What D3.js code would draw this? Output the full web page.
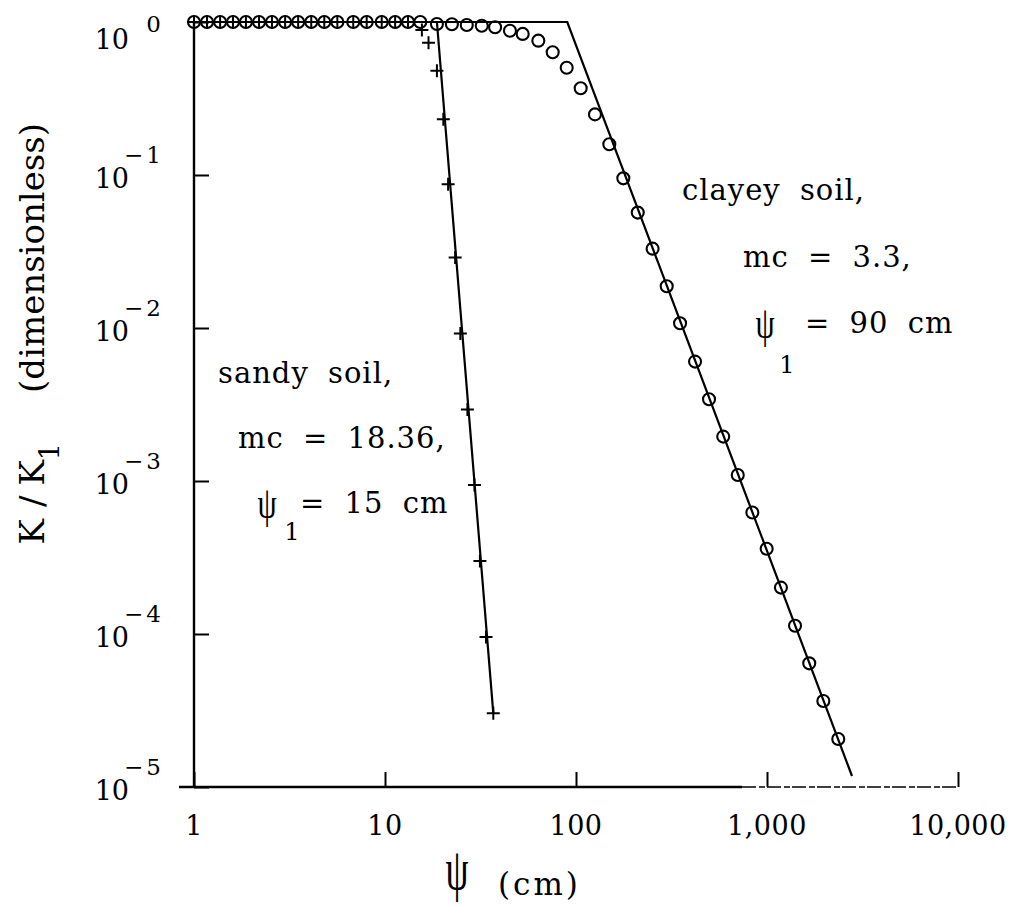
<!DOCTYPE html>
<html>
<head>
<meta charset="utf-8">
<script src="https://cdn.jsdelivr.net/npm/d3@7"></script>
<style>
  html, body { margin: 0; padding: 0; background: #fff; }
  svg { display: block; }
  text { font-family: "DejaVu Serif", serif; fill: #000; }
  .psi { font-family: "Liberation Serif", serif; }
</style>
</head>
<body>
<svg id="chart" width="1010" height="907"></svg>
<script>
// Suction head ψ (cm) tick values and labels
const psiTicks = [1, 10, 100, 1000, 10000];
const psiTickLabels = ["1", "10", "100", "1,000", "10,000"];

// Relative conductivity K/K1 tick values and their exponents
const kTicks = [1, 1e-1, 1e-2, 1e-3, 1e-4, 1e-5];
const kTickExponents = ["0", "\u22121", "\u22122", "\u22123", "\u22124", "\u22125"];

// Clayey soil: measured points (circles)
const clayPsi = [1.00, 1.17, 1.37, 1.60, 1.87, 2.19, 2.56, 3.00, 3.51, 4.11, 4.81, 5.63, 6.82,
  8.02, 9.61, 11.3, 13.2, 15.3, 18.7, 22.4, 26.8, 32.1, 37.7, 45.1, 52.6, 63.5, 75.5,
  89.4, 105.8, 125.7, 149.4, 176.9, 210.5, 251.8, 298.5, 350.6, 420, 497, 590, 703,
  838, 996, 1183, 1402, 1664, 1972, 2361];
const clayK = [1, 1, 1, 1, 1, 1, 1, 1, 1, 1, 1, 1, 1,
  1, 1, 1, 1, 1, 0.97, 0.966, 0.955, 0.946, 0.923, 0.877, 0.836, 0.755, 0.634,
  0.502, 0.369, 0.249, 0.159, 0.0951, 0.0568, 0.0330, 0.01875, 0.01074, 0.00603,
  0.00342, 0.00195, 0.001094, 0.000622, 0.000361, 0.000201, 0.0001132, 0.0000643,
  0.0000365, 0.0000206];

// Sandy soil: measured points (plus signs)
const sandyPsi = [1.00, 1.17, 1.37, 1.60, 1.87, 2.19, 2.56, 3.00, 3.51, 4.11, 4.81, 5.63, 6.82,
  8.02, 9.61, 11.3, 13.2, 15.6, 16.9, 18.7, 20.2, 21.4, 23.3, 24.8, 27.0, 29.4, 31.4,
  33.8, 36.9];
const sandyK = [1, 1, 1, 1, 1, 1, 1, 1, 1, 1, 1, 1, 1,
  1, 1, 1, 1, 0.887, 0.732, 0.481, 0.231, 0.0869, 0.0289, 0.0092, 0.00293, 0.00094,
  0.0003, 0.0000955, 0.0000303];

// Fitted model lines (K/K1 = 1 up to the break, straight log-log drop after)
const clayLinePsi = [1, 90, 2786];
const clayLineK = [1, 1, 1.18e-5];
const sandyLinePsi = [1, 18.7, 36.9];
const sandyLineK = [1, 1, 3.03e-5];

const svg = d3.select("#chart");
const x = d3.scaleLog().domain([1, 10000]).range([194, 958]);
const y = d3.scaleLog().domain([1e-5, 1]).range([787, 22]);

const ink = "#000";

// Axis lines
const axisG = svg.append("g");
axisG.append("line")
  .attr("x1", x(1)).attr("x2", x(1))
  .attr("y1", y(1)).attr("y2", y(1e-5))
  .attr("stroke", ink).attr("stroke-width", 2.4);
axisG.append("line")
  .attr("x1", x(1) - 15).attr("x2", x(1000) - 25)
  .attr("y1", y(1e-5)).attr("y2", y(1e-5))
  .attr("stroke", ink).attr("stroke-width", 2.4);
axisG.append("line")
  .attr("x1", x(1000) - 25).attr("x2", x(10000))
  .attr("y1", y(1e-5)).attr("y2", y(1e-5))
  .attr("stroke", ink).attr("stroke-width", 1.5)
  .attr("stroke-dasharray", "14 3 6 2");

// Ticks pointing into the plot
const xAxis = d3.axisBottom(x).tickValues(psiTicks).tickSize(-15).tickFormat("");
const gx = svg.append("g").attr("transform", `translate(0,${y(1e-5)})`).call(xAxis);
gx.select(".domain").remove();
gx.selectAll(".tick line").attr("stroke", ink).attr("stroke-width", 2);

const yAxis = d3.axisLeft(y).tickValues(kTicks).tickSize(-15).tickFormat("");
const gy = svg.append("g").attr("transform", `translate(${x(1)},0)`).call(yAxis);
gy.select(".domain").remove();
gy.selectAll(".tick line").attr("stroke", ink).attr("stroke-width", 2);

// X tick labels
svg.append("g").selectAll("text")
  .data(psiTicks)
  .join("text")
  .attr("x", d => x(d))
  .attr("y", 835)
  .attr("text-anchor", "middle")
  .attr("font-size", 27)
  .attr("letter-spacing", 0.5)
  .text((d, i) => psiTickLabels[i]);

// Y tick labels as 10 with a raised exponent
const yLab = svg.append("g").selectAll("g")
  .data(kTicks)
  .join("g");
yLab.append("text")
  .attr("x", 129)
  .attr("y", (d, i) => y(d) + (i === 0 ? 27 : 13))
  .attr("text-anchor", "end")
  .attr("font-size", 27)
  .text("10");
yLab.append("text")
  .attr("x", 164)
  .attr("y", (d, i) => y(d) + (i === 0 ? 10 : -12))
  .attr("text-anchor", "end")
  .attr("font-size", 23)
  .attr("letter-spacing", 3)
  .text((d, i) => kTickExponents[i]);

// Model lines
const line = d3.line().x(d => x(d[0])).y(d => y(d[1]));
svg.append("path")
  .datum(clayLinePsi.map((p, i) => [p, clayLineK[i]]))
  .attr("d", line).attr("fill", "none")
  .attr("stroke", ink).attr("stroke-width", 2.2);
svg.append("path")
  .datum(sandyLinePsi.map((p, i) => [p, sandyLineK[i]]))
  .attr("d", line).attr("fill", "none")
  .attr("stroke", ink).attr("stroke-width", 2.2);

// Clayey soil points
svg.append("g").selectAll("circle")
  .data(clayPsi.map((p, i) => [p, clayK[i]]))
  .join("circle")
  .attr("cx", d => x(d[0]))
  .attr("cy", d => y(d[1]))
  .attr("r", 6)
  .attr("fill", "none")
  .attr("stroke", ink)
  .attr("stroke-width", 2.1);

// Sandy soil points
svg.append("g").selectAll("path")
  .data(sandyPsi.map((p, i) => [p, sandyK[i]]))
  .join("path")
  .attr("transform", d => `translate(${x(d[0])},${y(d[1])})`)
  .attr("d", "M-6.5,0H6.5M0,-6.5V6.5")
  .attr("stroke", ink)
  .attr("stroke-width", 2);

// Annotations
function note(px, py, str) {
  return svg.append("text")
    .attr("x", px).attr("y", py)
    .attr("font-size", 29)
    .attr("letter-spacing", 1)
    .attr("word-spacing", 9)
    .text(str);
}
function psi(cx, baseY, size, sx, sy) {
  return svg.append("text").attr("class", "psi")
    .attr("transform", `translate(${cx},${baseY}) scale(${sx},${sy})`)
    .attr("text-anchor", "middle")
    .attr("font-size", size)
    .text("\u03c8");
}
note(218, 383, "sandy soil,");
note(238, 448, "mc = 18.36,");
psi(267, 518, 36, 0.85, 1.25);
svg.append("text").attr("x", 292).attr("y", 540).attr("text-anchor", "middle")
  .attr("font-size", 24).text("1");
note(300, 513, "= 15 cm");

note(682, 200, "clayey soil,");
note(743, 267, "mc = 3.3,");
psi(765, 338, 36, 0.85, 1.25);
svg.append("text").attr("x", 787).attr("y", 373).attr("text-anchor", "middle")
  .attr("font-size", 24).text("1");
note(805, 333, "= 90 cm");

// Axis titles
psi(457, 889, 46, 0.8, 1.3);
svg.append("text").attr("x", 498).attr("y", 895)
  .attr("font-size", 31).attr("letter-spacing", 3).text("(cm)");

const yt = svg.append("text")
  .attr("transform", "translate(44,123) rotate(-90)")
  .attr("text-anchor", "end")
  .attr("font-size", 34);
yt.append("tspan").text("K");
yt.append("tspan").attr("dx", 12).text("/");
yt.append("tspan").attr("dx", 10).text("K");
yt.append("tspan").attr("font-size", 27).attr("dy", 15).text("1");
yt.append("tspan").attr("dy", -15).attr("dx", 50).text("(dimensionless)");
</script>
</body>
</html>
